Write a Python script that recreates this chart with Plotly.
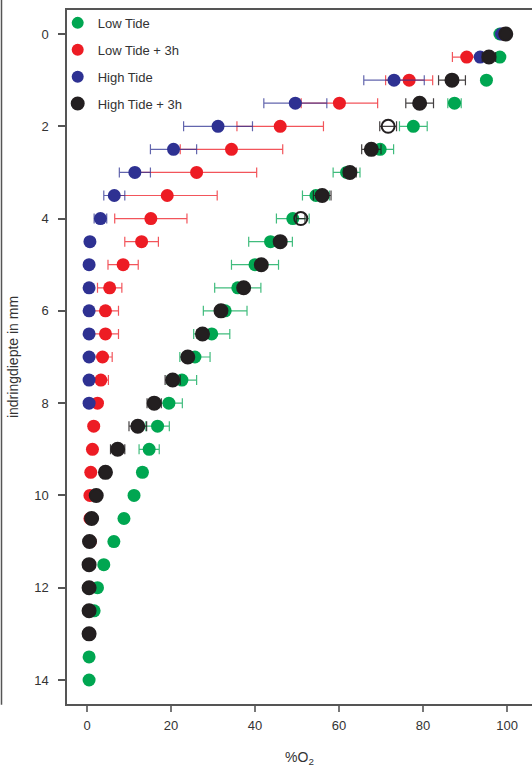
import plotly.graph_objects as go

depth = [0, 0.5, 1, 1.5, 2, 2.5, 3, 3.5, 4, 4.5, 5, 5.5, 6, 6.5, 7, 7.5, 8,
         8.5, 9, 9.5, 10, 10.5, 11, 11.5, 12, 12.5, 13, 13.5, 14]

low_tide = [98.3, 98.3, 95.1, 87.5, 77.7, 69.8, 61.8, 54.5, 49.0, 43.7, 40.0, 35.9, 32.9, 29.7, 25.7, 22.6, 19.5,
            16.8, 14.8, 13.2, 11.2, 8.8, 6.4, 4.0, 2.5, 1.7, 0.5, 0.5, 0.5]
low_tide_err = [0.5, 0.8, 0.3, 1.6, 3.3, 3.2, 3.2, 3.2, 3.9, 5.2, 5.6, 5.5, 5.2, 4.3, 3.6, 3.5, 3.2,
                2.8, 2.4, 1.0, 0.5, 0.8, 0.8, 0.3, 0, 0, 0, 0, 0]

low_tide_3h = [99.0, 90.4, 76.7, 60.1, 46.0, 34.4, 26.1, 19.1, 15.2, 13.0, 8.6, 5.4, 4.4, 4.4, 3.7, 3.3, 2.5,
               1.6, 1.3, 0.9, 0.7, 0.7, 0.8, None, None, None, None, None, None]
low_tide_3h_err = [0, 3.4, 5.6, 9.1, 10.3, 12.2, 14.3, 11.9, 8.6, 4.0, 3.6, 2.9, 3.1, 3.1, 2.3, 1.8, 0.5,
                   0, 0, 0, 0, 0, 0, 0, 0, 0, 0, 0, 0]

high_tide = [98.7, 93.6, 73.1, 49.6, 31.2, 20.6, 11.4, 6.5, 3.2, 0.7, 0.5, 0.5, 0.5, 0.5, 0.5, 0.5, 0.5,
             None, None, None, None, None, None, None, None, None, None, None, None]
high_tide_err = [0, 0.5, 7.2, 7.5, 8.2, 5.5, 3.7, 2.5, 1.5, 0, 0, 0, 0, 0, 0, 0, 0,
                 0, 0, 0, 0, 0, 0, 0, 0, 0, 0, 0, 0]

high_tide_3h = [99.7, 95.7, 86.9, 79.2, 71.7, 67.7, 62.6, 56.0, 50.9, 46.0, 41.5, 37.3, 31.9, 27.5, 24.0, 20.4, 16.0,
                12.1, 7.3, 4.4, 2.2, 1.1, 0.6, 0.5, 0.5, 0.5, 0.5, None, None]
high_tide_3h_err = [0, 1.6, 3.2, 3.3, 2.0, 2.3, 1.5, 2.1, 1.0, 1.0, 1.0, 1.0, 1.0, 1.3, 1.0, 1.8, 1.7,
                    2.1, 1.7, 1.0, 0.5, 0, 0, 0, 0, 0, 0, 0, 0]
high_tide_3h_hollow = [2, 4]

x_ticks = [0, 20, 40, 60, 80, 100]
y_ticks = [0, 2, 4, 6, 8, 10, 12, 14]

series = [
    ("Low Tide", low_tide, low_tide_err, "#00a651", "rgba(0,166,81,0.75)"),
    ("Low Tide + 3h", low_tide_3h, low_tide_3h_err, "#ed1c24", "rgba(237,28,36,0.75)"),
    ("High Tide", high_tide, high_tide_err, "#2e3192", "rgba(46,49,146,0.75)"),
    ("High Tide + 3h", high_tide_3h, high_tide_3h_err, "#231f20", "rgba(35,31,32,0.85)"),
]

fig = go.Figure()
for i, (name, vals, errs, col, ecol) in enumerate(series):
    if name == "High Tide + 3h":
        symbols = ["circle-open" if d in high_tide_3h_hollow else "circle" for d in depth]
        line = dict(width=2, color=col)
    else:
        symbols = "circle"
        line = dict(width=0)
    fig.add_trace(go.Scatter(
        x=vals, y=depth, name=name, mode="markers",
        legendgroup=name,
        marker=dict(color=col, size=13, symbol=symbols, line=line, opacity=1),
        error_x=dict(type="data", array=errs, visible=True, color=ecol, thickness=1.2, width=5),
    ))

fig.add_shape(type="line", xref="paper", yref="paper",
              x0=(1.5 - 67) / 465, x1=(1.5 - 67) / 465, y0=-0.001, y1=704 / 694,
              line=dict(color="#555", width=1.5))

fig.update_layout(
    width=532, height=769,
    margin=dict(l=67, r=0, t=10, b=65, autoexpand=False),
    paper_bgcolor="white", plot_bgcolor="white",
    font=dict(family="Liberation Sans, Arial, sans-serif", size=13, color="#333"),
    showlegend=True,
    legend=dict(x=-0.02, y=1.003, xanchor="left", yanchor="top",
                bgcolor="rgba(0,0,0,0)", font=dict(size=13, color="#333"),
                traceorder="grouped", tracegroupgap=7, itemsizing="constant"),
    xaxis=dict(range=[-4.76, 105.95], tickvals=x_ticks, showgrid=False, zeroline=False,
               automargin=False,
               showline=True, linecolor="#555", linewidth=1.5, mirror=True,
               ticks="outside", ticklen=6, tickcolor="#777", tickwidth=1.5,
               ticklabelstandoff=3,
               title=dict(text="%O<sub>2</sub>", standoff=20, font=dict(size=14))),
    yaxis=dict(range=[14.52, -0.52], tickvals=y_ticks, showgrid=False, zeroline=False,
               automargin=False,
               showline=True, linecolor="#555", linewidth=1.5,
               ticks="outside", ticklen=7, tickcolor="#555", tickwidth=1.5,
               ticklabelstandoff=7,
               title=dict(text="indringdiepte in mm", standoff=12, font=dict(size=14))),
)

fig.write_html("out.html", config={"displayModeBar": False},
               post_script="document.body.style.margin='0';")
